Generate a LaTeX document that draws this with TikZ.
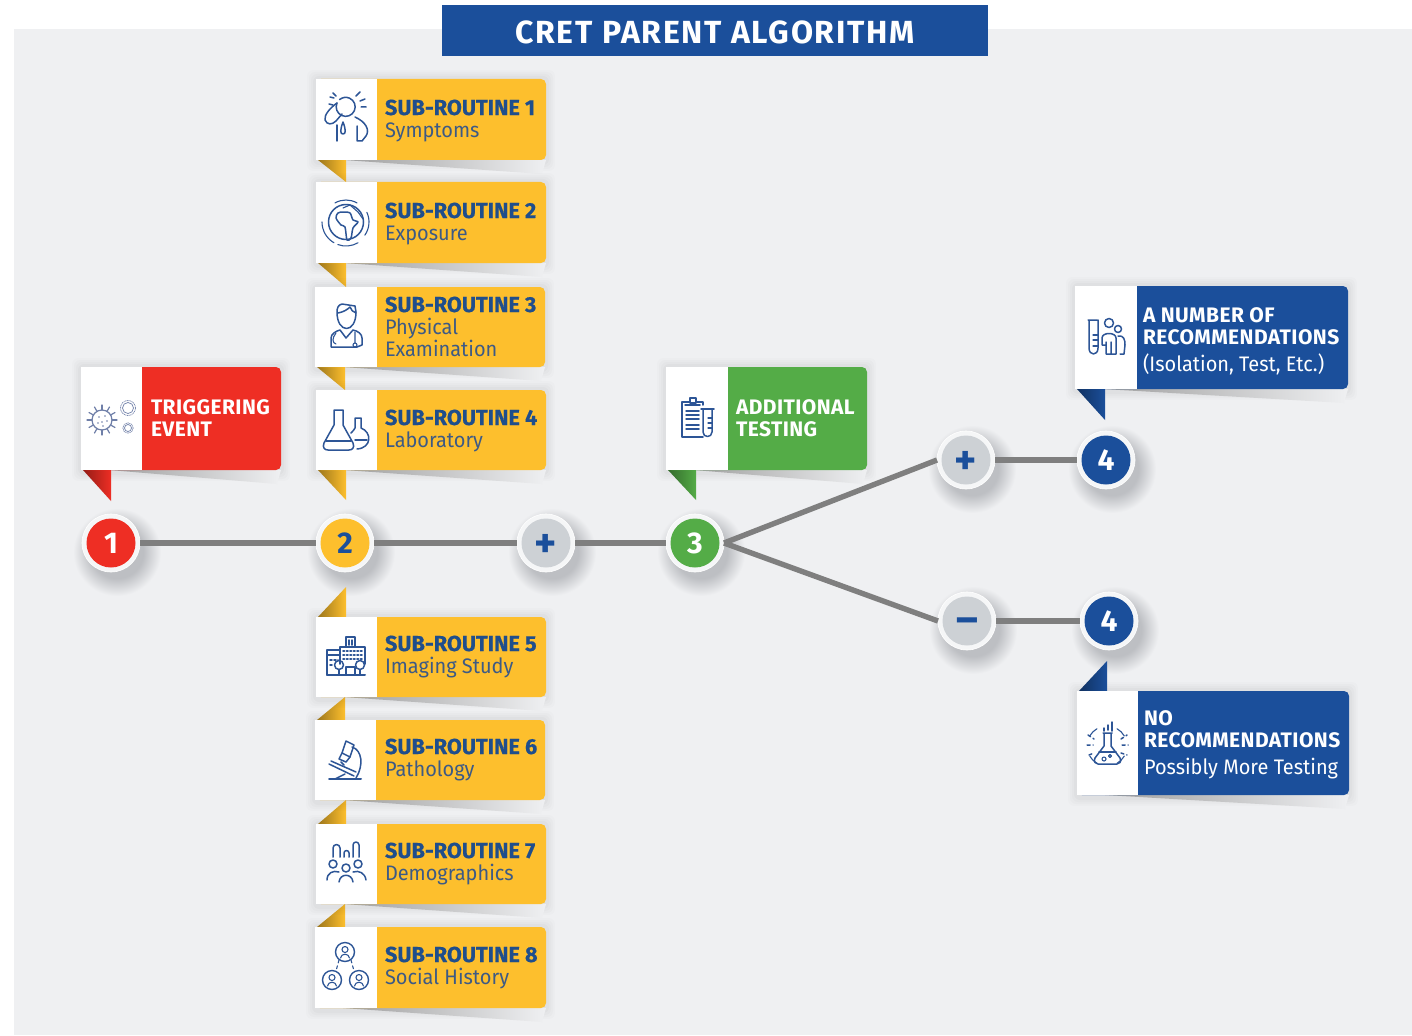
\documentclass[tikz,border=0pt]{standalone}
\usepackage{fontspec}
\setmainfont{Fira Sans}
\newfontfamily\spacedf[LetterSpace=2]{Fira Sans}
\newfontfamily\subf[BoldFeatures={FakeBold=0.5}]{Fira Sans}
\newfontfamily\narrowf[FakeStretch=0.95]{Fira Sans}
\newfontfamily\titlef[LetterSpace=5.4]{Fira Sans}
\definecolor{panelbg}{HTML}{EFF0F2}
\definecolor{ccblue}{HTML}{1B4F9B}
\definecolor{ccred}{HTML}{EE2E24}
\definecolor{ccyellow}{HTML}{FDBF2D}
\definecolor{ccgreen}{HTML}{54AC47}
\definecolor{ccgrey}{HTML}{CDD1D5}
\definecolor{ringc}{HTML}{F5F6F7}
\definecolor{wirec}{HTML}{7F7F7F}
\definecolor{icoc}{HTML}{2D5596}
\definecolor{icogrey}{HTML}{6F7FA8}
\definecolor{softc}{HTML}{BDBFC3}
\definecolor{txtb}{HTML}{1F4E8C}
\definecolor{txtr}{HTML}{3D5A85}
\pgfdeclareradialshading{softshadow}{\pgfpoint{0bp}{0bp}}{color(0bp)=(softc); color(15bp)=(softc); color(25bp)=(panelbg); color(50bp)=(panelbg)}
\newcommand{\tightlines}{\lineskiplimit -50pt\relax}
\tikzset{
  cardbody/.style={rectangle,rounded corners=5pt,inner sep=0pt,outer sep=0pt},
  cardpanel/.style={rectangle,fill=white,inner sep=0pt,outer sep=0pt},
  cardtext/.style={anchor=north west,inner sep=0pt,outer sep=0pt,align=left},
  subtext/.style={cardtext,text=txtb,font=\fontsize{22}{22}\selectfont\tightlines},
  lighttext/.style={cardtext,text=white,font=\fontsize{21}{22}\selectfont\tightlines},
  ringnode/.style={circle,fill=ringc,draw=white,line width=.6pt,minimum size=58pt,inner sep=0pt,outer sep=0pt},
  corenode/.style={circle,minimum size=49pt,inner sep=0pt,outer sep=0pt,font=\fontsize{30}{30}\selectfont\bfseries},
  signnode/.style={corenode,font=\fontsize{42}{42}\selectfont\bfseries},
  wire/.style={draw=wirec,line width=5.4pt},
  ico/.style={draw=icoc,line width=1.5pt,line cap=round,line join=round},
  icoth/.style={draw=icoc,line width=1.1pt,line cap=round,line join=round},
  icog/.style={draw=icogrey,line width=1.2pt,line cap=round}
}
\newcommand{\cardshadow}[4]{%
  \foreach \s/\o in {9/.012,7/.014,5/.016,3/.02}{%
    \fill[black,opacity=\o,rounded corners=6pt] (#1-\s,#2-\s) rectangle (#3+\s,#4+\s+2);}%
  \path[left color=gray!75,right color=panelbg] (#1+28,#4) -- (#3,#4) -- (#3-4,#4+14) -- cycle;}
% name x0 y0 x1 y1 split colour tipY
\newcommand{\cardmake}[8]{%
  \cardshadow{#2}{#3}{#4}{#5}%
  \ifdim #8pt>#5pt
    \path[left color=#7!62!black,right color=#7] (#2+2,#5) -- (#2+30,#5) -- (#2+30,#8) -- cycle;
  \else
    \path[left color=#7!62!black,right color=#7] (#2+2,#3) -- (#2+30,#3) -- (#2+30,#8) -- cycle;
  \fi
  \pgfmathsetmacro\cw{#4-#2}\pgfmathsetmacro\ch{#5-#3}\pgfmathsetmacro\pw{#6-#2}%
  \node[cardbody,fill=#7,minimum width=\cw pt,minimum height=\ch pt] (#1) at ({(#2+#4)/2},{(#3+#5)/2}) {};
  \node[cardpanel,minimum width=\pw pt,minimum height=\ch pt] (#1-icon) at ({(#2+#6)/2},{(#3+#5)/2}) {};
}
\newcommand{\roundshadow}[2]{\path[shading=softshadow] (#1+6,#2+9) circle (44);}
% name x y colour textcolour label
\newcommand{\stepnode}[6]{%
  \node[ringnode] (#1) at (#2,#3) {};
  \node[corenode,fill=#4,text=#5] (#1-core) at (#2,#3) {#6};
}
% name x y raise label
\newcommand{\signstep}[5]{%
  \node[ringnode] (#1) at (#2,#3) {};
  \node[signnode,fill=ccgrey,text=ccblue] (#1-core) at (#2,#3) {\smash{\raisebox{#4}{#5}}};
}
\newcommand{\subhead}[1]{\strut{\fontsize{21.7}{22}\selectfont\subf\bfseries SUB-ROUTINE #1}}
\newcommand{\plainline}[1]{\strut{\fontsize{21}{22}\selectfont\narrowf\color{txtr}#1}}
\newcommand{\capline}[1]{\strut{\spacedf\bfseries #1}}
\newcommand{\whiteline}[1]{\strut{\narrowf #1}}
\begin{document}
\begin{tikzpicture}[x=1pt,y=-1pt]
\useasboundingbox (0,0) rectangle (1412,1035);
\fill[white] (0,0) rectangle (1412,1035);
\fill[panelbg] (14,29) rectangle (1412,1035);
% title
\node[rectangle,fill=ccblue,minimum width=546pt,minimum height=51pt,inner sep=0pt] (title) at (715,30.5) {};
\node[text=white,inner sep=0pt,anchor=base] (titletext) at (715,44) {\fontsize{32}{32}\selectfont\titlef\bfseries CRET PARENT ALGORITHM};
% shadows of circles
\roundshadow{111}{543}\roundshadow{345}{543}\roundshadow{546}{543}\roundshadow{695}{543}
\roundshadow{966}{460}\roundshadow{1106}{460}\roundshadow{967}{621}\roundshadow{1109}{621}
% cards
\cardmake{sr1}{316}{79}{546}{160}{377}{ccyellow}{182}
\cardmake{sr2}{316}{182}{546}{263}{377}{ccyellow}{287}
\cardmake{sr3}{315}{287}{545}{367}{377}{ccyellow}{390}
\cardmake{sr4}{316}{390}{546}{470}{377}{ccyellow}{500}
\cardmake{sr8}{315}{927}{546}{1008}{377}{ccyellow}{904}
\cardmake{sr7}{316}{824}{546}{904}{377}{ccyellow}{800}
\cardmake{sr6}{315}{720}{545}{800}{376}{ccyellow}{697}
\cardmake{sr5}{316}{617}{546}{697}{377}{ccyellow}{587}
\cardmake{trig}{81}{367}{281}{470}{142}{ccred}{501}
\cardmake{addt}{666}{367}{867}{470}{728}{ccgreen}{500}
\cardmake{recs}{1075}{286}{1348}{389}{1137}{ccblue}{420}
\cardmake{nore}{1077}{691}{1349}{795}{1138}{ccblue}{661}
% step nodes
\stepnode{n1}{111}{543}{ccred}{white}{1}
\stepnode{n2}{345}{543}{ccyellow}{ccblue}{2}
\signstep{np}{546}{543}{-14pt}{+}
\stepnode{n3}{695}{543}{ccgreen}{white}{3}
\signstep{pp}{966}{460}{-14pt}{+}
\stepnode{na}{1106}{460}{ccblue}{white}{4}
\signstep{mm}{967}{621}{-12.5pt}{--}
\stepnode{nb}{1109}{621}{ccblue}{white}{4}
% connectors
\draw[wire] (n1) -- (n2);
\draw[wire] (n2) -- (np);
\draw[wire] (np) -- (n3);
\draw[wire] (n3.east) -- (pp.west);
\draw[wire] (n3.east) -- (mm.west);
\draw[wire] (pp) -- (na);
\draw[wire] (mm) -- (nb);
% card texts
\node[subtext] (t1) at (385,99.6) {\subhead{1}\\\plainline{Symptoms}};
\node[subtext] (t2) at (385,202.6) {\subhead{2}\\\plainline{Exposure}};
\node[subtext] (t3) at (385,296.6) {\subhead{3}\\\plainline{Physical}\\\plainline{Examination}};
\node[subtext] (t4) at (385,409.6) {\subhead{4}\\\plainline{Laboratory}};
\node[subtext] (t5) at (385,635.6) {\subhead{5}\\\plainline{Imaging Study}};
\node[subtext] (t6) at (385,738.6) {\subhead{6}\\\plainline{Pathology}};
\node[subtext] (t7) at (385,842.6) {\subhead{7}\\\plainline{Demographics}};
\node[subtext] (t8) at (385,946.6) {\subhead{8}\\\plainline{Social History}};
\node[lighttext] (t9) at (151,398.6) {\capline{TRIGGERING}\\\capline{EVENT}};
\node[lighttext] (t10) at (736,398.6) {\capline{ADDITIONAL}\\\capline{TESTING}};
\node[lighttext] (t11) at (1143,307) {\capline{A NUMBER OF}\\\capline{RECOMMENDATIONS}\\[5pt]\whiteline{(Isolation, Test, Etc.)}};
\node[lighttext] (t12) at (1144,710) {\capline{NO}\\\capline{RECOMMENDATIONS}\\[5pt]\whiteline{Possibly More Testing}};
% icon: virus
\draw[icog] (102,420) circle (10);
\foreach \a in {0,30,...,330}{\draw[icog] (102,420)++(\a:10) -- ++(\a:5);}
\foreach \p in {(99,417),(105,416),(102,422),(107,421),(98,423),(103,426)}{\fill[icogrey] \p circle (.9);}
\draw[icog,line width=.7pt,densely dotted] (128,408) circle (7.5);
\draw[icog,line width=.7pt] (128,408) circle (5.5);
\draw[icog,line width=.7pt,densely dotted] (128,428) circle (5.2);
\draw[icog,line width=.7pt] (128,428) circle (3.5);
% icon: symptoms
\draw[ico] (337,103) arc (204:-130:9.5);
\foreach \a/\b in {330/97,329/104}{\draw[ico] (\a,\b) -- ++(4,1);}
\draw[ico] (356,96) -- (360,92) (360,101) -- (365,99) (361,107) -- (366,107) (333,93) -- (336,96);
\draw[ico] (337,103) .. controls (330,108) and (324,115) .. (325,120) .. controls (327,125) and (332,125) .. (336,121) -- (342,114);
\draw[ico] (337,141) -- (337,125);
\draw[ico] (343,122) .. controls (340,130) and (340,134) .. (343,134) .. controls (346,134) and (346,130) .. (343,122);
\draw[ico] (355,117) .. controls (366,122) and (370,130) .. (366,136) -- (362,141) -- (357,141) -- (357,126);
% icon: globe
\draw[ico] (346,222) circle (17.5);
\draw[ico] plot[smooth cycle,tension=.5] coordinates {(338,213) (336,218) (341,225) (345,227) (347,240) (351,238) (353,228) (358,222) (353,220) (350,213) (343,212)};
\draw[icoth] (343,208) -- (350,205) -- (358,212) -- (363,219);
\draw[icoth] (346,222)++(180:24) arc (180:120:24);
\draw[icoth] (346,222)++(-25:23) arc (-25:35:23);
\draw[icoth] (346,222)++(110:24) arc (110:60:24);
\draw[icoth] (346,222)++(-120:22) arc (-120:-60:22);
% icon: doctor
\draw[ico] (337,312) .. controls (337,334) and (356,334) .. (356,312) -- (355,306) -- (342,304) .. controls (338,305) and (337,308) .. (337,312);
\draw[ico] (338,313) .. controls (344,312) and (348,309) .. (350,307) .. controls (351,310) and (353,312) .. (356,313);
\draw[ico] (331,347) -- (331,338) .. controls (331,334) and (336,331) .. (340,330) -- (346,338) -- (353,330) .. controls (358,331) and (362,334) .. (362,338) -- (362,345) -- (357,347) -- cycle;
\draw[icoth] (336,333) .. controls (332,338) and (332,343) .. (336,344) (355,332) -- (355,343);
\draw[icoth] (355,345) circle (2);
% icon: flasks
\draw[ico] (334,410) -- (343,410) -- (343,425) -- (353,443) .. controls (355,448) and (352,450) .. (349,450) -- (328,450) .. controls (325,450) and (322,448) .. (324,443) -- (334,425) -- cycle;
\draw[ico] (326,441) -- (351,441);
\draw[ico] (355,418) -- (361,418) -- (361,428) .. controls (372,432) and (372,448) .. (357,449) (351,433) .. controls (352,431) and (355,430) .. (355,428) -- (355,418);
\draw[ico] (355,440) -- (367,440);
% icon: building
\draw[ico] (340,664) -- (340,647) -- (365,647) -- (365,664);
\draw[ico] (346,647) -- (346,637) -- (355,637) -- (355,647);
\draw[ico] (349,640) -- (349,645) (352,640) -- (352,645);
\draw[ico] (327,675) -- (327,650) -- (340,650);
\draw[ico] (327,655) -- (340,655);
\draw[ico,line width=1.6pt,dash pattern=on 1.5pt off 2pt] (343,651) -- (363,651) (343,655) -- (363,655) (343,659) -- (363,659);
\draw[ico,line width=1.6pt,dash pattern=on 2pt off 2pt] (330,660) -- (338,660) (330,665) -- (333,665);
\draw[ico] (339,665) circle (4.5) (360,665) circle (4.5);
\draw[ico] (339,670) -- (339,675) (360,670) -- (360,675) (346,675) -- (346,667) -- (355,667) -- (355,675);
\draw[ico,line width=2pt] (327,675) -- (365,675);
% icon: microscope
\draw[ico,line width=2pt] (329,779) -- (361,779);
\draw[ico] (335,779) -- (345,774);
\draw[ico] (352,747) .. controls (362,750) and (364,765) .. (356,778);
\draw[ico] (346,741) -- (354,745) -- (350,757) -- (342,753) -- cycle;
\draw[ico] (342,753) -- (339,759) -- (346,762) -- (350,757);
\draw[ico] (341,762) -- (344,765);
\draw[ico] (329,764) -- (354,776) (331,761) -- (356,772);
% icon: demographics
\draw[ico] (333,857) -- (333,848) arc (180:360:3.5) -- (340,857);
\draw[ico] (344,857) -- (344,853) arc (180:360:2.5) -- (349,857);
\draw[ico] (353,857) -- (353,845) arc (180:360:3) -- (359,857);
\draw[ico] (333,864) circle (4) (346,868) circle (4) (358,864) circle (4);
\draw[ico] (327,880) .. controls (327,873) and (333,870) .. (339,872);
\draw[ico] (339,882) .. controls (340,873) and (352,873) .. (353,882);
\draw[ico] (353,872) .. controls (359,870) and (365,873) .. (366,880);
% icon: social
\foreach \x/\y in {345/952,332/980,359/980}{
  \draw[icoth,line width=1.4pt] (\x,\y) circle (9.5);
  \draw[icoth] (\x,\y-2.5) circle (3);
  \draw[icoth] (\x-4.5,\y+6) .. controls (\x-4,\y+1) and (\x+4,\y+1) .. (\x+4.5,\y+6);
}
\draw[icoth,dashed] (339,960) -- (336,971) (351,960) -- (354,971);
% icon: clipboard
\draw[ico] (703,405) -- (703,402) -- (682,402) -- (682,437) -- (703,437);
\draw[ico] (685,405) -- (700,405);
\draw[ico,fill=white] (690,403) -- (690,398) -- (696,398) -- (696,403) -- cycle;
\draw[ico] (686,411) -- (699,411) (686,415) -- (699,415) (686,419) -- (699,419);
\draw[ico] (686,425) -- (699,425) (686,429) -- (699,429);
\draw[ico] (703,410) -- (703,432) .. controls (703,438) and (712,438) .. (712,432) -- (712,410);
\draw[ico] (701,409) -- (714,409);
\draw[icoth] (708,418) -- (712,418) (708,423) -- (712,423) (708,428) -- (712,428);
% icon: recs
\draw[ico] (1088,320) -- (1097,320) (1089,320) -- (1089,348) .. controls (1089,356) and (1098,356) .. (1098,348) -- (1098,320);
\draw[icoth] (1093,335) -- (1098,335) (1093,340) -- (1098,340) (1093,346) -- (1098,346);
\draw[ico] (1109,323) circle (4.5);
\draw[ico] (1102,345) -- (1102,338) .. controls (1102,332) and (1116,332) .. (1116,338) -- (1116,354) -- (1111,354) -- (1111,342) (1106,354) -- (1106,342) (1106,354) -- (1111,354) (1102,345) -- (1106,345);
\draw[ico] (1118,329) circle (3.5);
\draw[ico] (1118,336) .. controls (1124,335) and (1125,340) .. (1125,345) -- (1124,354) -- (1120,354);
% icon: no recs
\draw[ico] (1103,733) -- (1112,733) (1104,733) -- (1104,746) -- (1095,758) .. controls (1093,762) and (1096,764) .. (1098,764) -- (1117,764) .. controls (1119,764) and (1122,762) .. (1120,758) -- (1111,746) -- (1111,733);
\draw[ico] (1099,752) -- (1116,752);
\draw[icoth] (1104,759) circle (2) (1110,756) circle (1.5);
\draw[icoth] (1107,746)++(-150:20) arc (-150:-120:20) (1107,746)++(-60:20) arc (-60:-30:20) (1107,746)++(150:20) arc (150:120:20) (1107,746)++(30:20) arc (30:60:20);
\draw[ico] (1108,725) -- (1108,730) (1104,728) -- (1104,731) (1112,722) -- (1112,731);
\draw[ico,dash pattern=on 3pt off 3pt] (1088,735) -- (1094,739) (1087,745) -- (1093,745) (1089,755) -- (1094,753) (1121,739) -- (1127,735) (1122,745) -- (1128,745) (1121,753) -- (1127,755);
\end{tikzpicture}
\end{document}
